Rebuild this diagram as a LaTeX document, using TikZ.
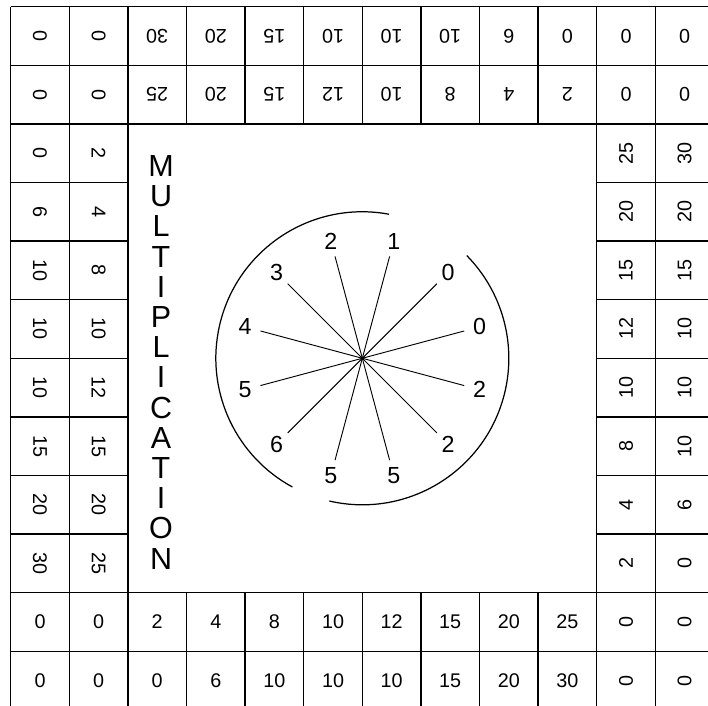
\documentclass[tikz,border=0pt]{standalone}
\usepackage{fontspec}
\setmainfont{Liberation Sans}
\usetikzlibrary{calc}

\begin{document}
\begin{tikzpicture}[
    num/.style={font=\fontsize{9.6}{11}\selectfont},
    dial/.style={font=\fontsize{11.3}{13}\selectfont},
    letter/.style={font=\fontsize{14.8}{16}\selectfont, inner sep=0pt},
    cellline/.style={line width=0.7pt},
    spoke/.style={line width=0.45pt},
    ring/.style={line width=0.6pt}]
    \useasboundingbox (-0.183,0.067) rectangle (11.899,12.114);
    \clip (-0.183,0.067) rectangle (11.899,12.114);
    \coordinate (O) at (6,6);
    % border: one strip of 10x2 cells, turned four times round the centre
    \foreach \r in {0,90,180,270} {
        \begin{scope}[rotate around={\r:(O)}]
            \foreach \x in {0,...,10}
                \draw[cellline] (\x,0) -- (\x,2);
            \foreach \y in {0,1,2}
                \draw[cellline] (0,\y) -- (10,\y);
            \foreach \v/\w [count=\k from 0] in {0/0,0/0,0/2,6/4,10/8,10/10,10/12,15/15,20/20,30/25} {
                \node[num, rotate=\r] (out-\r-\k) at (\k+0.5,0.5) {\v};
                \node[num, rotate=\r] (in-\r-\k) at (\k+0.5,1.5) {\w};
            }
        \end{scope}
    }
    % dial
    \draw[ring] ([shift={(79.5:2.5)}]O) arc[start angle=79.5, end angle=241.5, radius=2.5];
    \draw[ring] ([shift={(-103:2.5)}]O) arc[start angle=-103, end angle=44.5, radius=2.5];
    \foreach \a/\t [count=\i] in {15/0,45/0,75/1,105/2,135/3,165/4,195/5,225/6,255/5,285/5,315/2,345/2} {
        \coordinate (tip\i) at ($(O)+(\a:1.8)$);
        \node[dial] (mark\i) at ($(O)+(\a:2.07)$) {\t};
        \draw[spoke] (O) -- (tip\i);
    }
    % the word, one letter under the other
    \foreach \l [count=\i from 0] in {M,U,L,T,I,P,L,I,C,A,T,I,O,N}
        \node[letter] (ch\i) at (2.565,9.28-0.5154*\i) {\l};
\end{tikzpicture}
\end{document}
